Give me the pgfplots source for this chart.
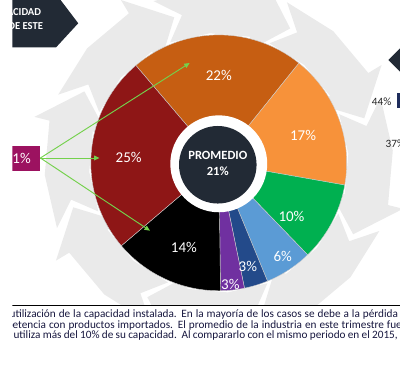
\documentclass[border=0pt]{standalone}
\usepackage{pgfplots}
\pgfplotsset{compat=1.18}
\usepackage{pgfplotstable}
\usepackage{fontspec}
\setmainfont{Carlito}
\usetikzlibrary{arrows.meta}

\definecolor{cA}{HTML}{C65E12}
\definecolor{cB}{HTML}{F7923A}
\definecolor{cC}{HTML}{00B050}
\definecolor{cD}{HTML}{5B9BD5}
\definecolor{cE}{HTML}{234A8A}
\definecolor{cF}{HTML}{7030A0}
\definecolor{cG}{HTML}{000000}
\definecolor{cH}{HTML}{8E1616}
\definecolor{darkbox}{HTML}{222A35}
\definecolor{magbox}{HTML}{9C1260}
\definecolor{arrowgreen}{HTML}{74D14C}
\definecolor{bggrey}{HTML}{EAEAEA}
\definecolor{txtblue}{HTML}{17173F}
\definecolor{barnavy}{HTML}{1F2D5C}

% slices: value (%), colour, label position (pixels)
\pgfplotstableread{
value color lx ly
22 cA 213 78
17 cB 300 140
10 cC 288 223
6 cD 279 265
3 cE 243 275
3 cF 225 293
14 cG 177 255
25 cH 120 162
}\slices

\begin{document}
% cumulative angles (clockwise from 130.4 deg)
\pgfplotstablegetrowsof{\slices}
\pgfmathtruncatemacro{\nlast}{\pgfplotsretval-1}
\xdef\cum{130.4}
\foreach \i in {0,...,\nlast}{%
  \pgfplotstablegetelem{\i}{value}\of\slices
  \pgfmathsetmacro{\endang}{\cum-3.6*\pgfplotsretval}%
  \expandafter\xdef\csname sa\i\endcsname{\cum}%
  \expandafter\xdef\csname se\i\endcsname{\endang}%
  \xdef\cum{\endang}%
  \pgfplotstablegetelem{\i}{color}\of\slices
  \expandafter\xdef\csname col\i\endcsname{\pgfplotsretval}%
  \pgfplotstablegetelem{\i}{value}\of\slices
  \expandafter\xdef\csname val\i\endcsname{\pgfplotsretval}%
  \pgfplotstablegetelem{\i}{lx}\of\slices
  \expandafter\xdef\csname lx\i\endcsname{\pgfplotsretval}%
  \pgfplotstablegetelem{\i}{ly}\of\slices
  \expandafter\xdef\csname ly\i\endcsname{\pgfplotsretval}%
}
\begin{tikzpicture}
\begin{axis}[width=10cm,height=9.85cm,scale only axis,
  xmin=0,xmax=400,ymin=0,ymax=394,y dir=reverse,
  axis lines=none,clip=true,clip mode=global]
% background: ring of light grey circular arrows (decoration)
\pgfplotsinvokeforeach{0,...,7}{
  \fill[bggrey]
     ({213+180*cos(112-45*#1)},{168-180*sin(112-45*#1)})
  -- ({213+157*cos(104-45*#1)},{168-157*sin(104-45*#1)})
  -- ({213+134*cos(112-45*#1)},{168-134*sin(112-45*#1)})
  -- ({213+134*cos(94-45*#1)},{168-134*sin(94-45*#1)})
  -- ({213+134*cos(76-45*#1)},{168-134*sin(76-45*#1)})
  -- ({213+118*cos(76-45*#1)},{168-118*sin(76-45*#1)})
  -- ({213+157*cos(62-45*#1)},{168-157*sin(62-45*#1)})
  -- ({213+196*cos(76-45*#1)},{168-196*sin(76-45*#1)})
  -- ({213+180*cos(76-45*#1)},{168-180*sin(76-45*#1)})
  -- ({213+180*cos(94-45*#1)},{168-180*sin(94-45*#1)}) -- cycle;
}
% donut slices
\pgfplotsinvokeforeach{0,...,7}{
  \fill[\csname col#1\endcsname, draw=white!80!black, line width=0.3pt]
    (213,168) -- plot[domain=\csname se#1\endcsname:\csname sa#1\endcsname, samples=50]
      ({213+132*cos(\x)},{168-132*sin(\x)}) -- cycle;
}
% hole
\fill[white] (213,169) circle[radius=50];
\fill[darkbox] (212,170) circle[radius=40];
\node[text=white,font=\fontsize{9.2}{10}\selectfont\bfseries] at (212,160) {PROMEDIO};
\node[text=white,font=\fontsize{9.2}{10}\selectfont\bfseries] at (212,177) {21\%};
% labels
\pgfplotsinvokeforeach{0,...,7}{
  \node[text=white,font=\fontsize{11}{12}\selectfont] at (\csname lx#1\endcsname,\csname ly#1\endcsname) {\csname val#1\endcsname\%};
}
% left magenta box and arrows
\fill[magbox] (-5,151) rectangle (29,176);
\node[text=white,font=\fontsize{11}{12}\selectfont,anchor=east] at (24,163.5) {61\%};
\draw[arrowgreen,line width=0.7pt,-{Triangle[length=4pt,width=3.5pt]}] (29,163) -- (183,65);
\draw[arrowgreen,line width=0.7pt,-{Triangle[length=4pt,width=3.5pt]}] (29,163) -- (90,163);
\draw[arrowgreen,line width=0.7pt,-{Triangle[length=4pt,width=3.5pt]}] (29,163) -- (142,238);
% top-left dark box
\fill[darkbox] (-5,-5) -- (46,-5) -- (68,24) -- (45,49) -- (-5,49) -- cycle;
\node[text=white,font=\fontsize{7.8}{8}\selectfont\bfseries,anchor=east,inner sep=0pt] at (30,12.5) {CAPACIDAD};
\node[text=white,font=\fontsize{7.8}{8}\selectfont\bfseries,anchor=east,inner sep=0pt] at (32,27) {DE ESTE};
% right side
\fill[darkbox] (388,62) -- (402,48) -- (402,76) -- cycle;
\node[text=black!85,font=\fontsize{8.2}{9}\selectfont] at (381,105) {44\%};
\fill[barnavy] (397,96) rectangle (404,111);
\node[text=black!85,font=\fontsize{8.2}{9}\selectfont,anchor=west,inner sep=0pt] at (385,148) {37\%};
% bottom text area (justified lines)
\fill[white] (-5,315) rectangle (405,400);
\draw[black,line width=1pt] (-5,315) -- (405,315);
\node[text=txtblue,font=\fontsize{8.25}{9}\selectfont,anchor=west,inner sep=0pt] at (-3,324) {\makebox[285pt][s]{utilización de la capacidad instalada. En la mayoría de los casos se debe a la pérdida}};
\node[text=txtblue,font=\fontsize{8.25}{9}\selectfont,anchor=west,inner sep=0pt] at (-6,335.5) {\makebox[290pt][s]{petencia con productos importados. El promedio de la industria en este trimestre fue}};
\node[text=txtblue,font=\fontsize{8.25}{9}\selectfont,anchor=west,inner sep=0pt] at (1,346.5) {\makebox[282pt][s]{utiliza más del 10\% de su capacidad.\ \ Al compararlo con el mismo periodo en el 2015,}};
\end{axis}
\pgfresetboundingbox
\path[use as bounding box] (0,0) rectangle (10cm,9.85cm);
\end{tikzpicture}
\end{document}
